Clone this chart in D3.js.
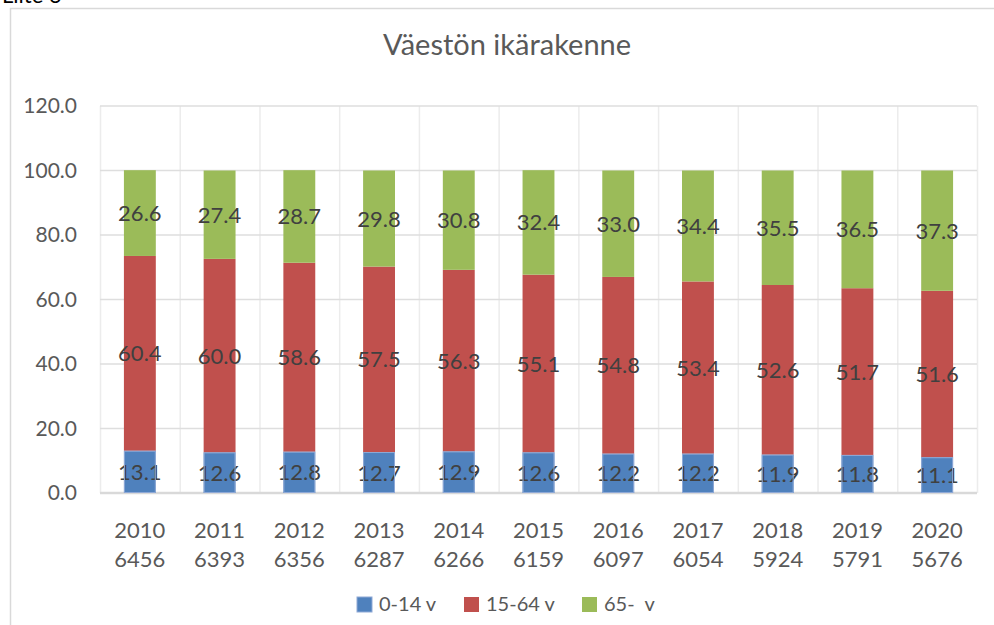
<!DOCTYPE html>
<html>
<head>
<meta charset="utf-8">
<script src="https://cdn.jsdelivr.net/npm/d3@7"></script>
<style>
  body { margin: 0; background: #fff; }
  svg { display: block; font-family: Lato, "Open Sans", sans-serif; }
</style>
</head>
<body>
<svg width="994" height="625"></svg>
<script>
// data
const years = ["2010", "2011", "2012", "2013", "2014", "2015", "2016", "2017", "2018", "2019", "2020"];
const totals = ["6456", "6393", "6356", "6287", "6266", "6159", "6097", "6054", "5924", "5791", "5676"];
const age0to14 = [13.1, 12.6, 12.8, 12.7, 12.9, 12.6, 12.2, 12.2, 11.9, 11.8, 11.1];
const age15to64 = [60.4, 60.0, 58.6, 57.5, 56.3, 55.1, 54.8, 53.4, 52.6, 51.7, 51.6];
const age65 = [26.6, 27.4, 28.7, 29.8, 30.8, 32.4, 33.0, 34.4, 35.5, 36.5, 37.3];
const seriesNames = ["0-14 v", "15-64 v", "65-  v"];
const yTicks = [0, 20, 40, 60, 80, 100, 120];

const colors = ["#4f81bd", "#c0504d", "#9bbb59"];

const svg = d3.select("svg");
const margin = { top: 106, right: 17, bottom: 132, left: 100 };
const width = 994 - margin.left - margin.right;
const height = 625 - margin.top - margin.bottom;

// outer frame + cut-off caption above it
svg.append("text")
  .attr("x", 2).attr("y", 3)
  .attr("font-size", 22).attr("fill", "#000")
  .text("Liite 3");
svg.append("rect")
  .attr("x", 10.5).attr("y", 8.5)
  .attr("width", 1000).attr("height", 640)
  .attr("fill", "none").attr("stroke", "#d9d9d9").attr("stroke-width", 1.5);

svg.append("text")
  .attr("x", 507).attr("y", 55)
  .attr("text-anchor", "middle")
  .attr("font-size", 29).attr("fill", "#595959")
  .text("Väestön ikärakenne");

const g = svg.append("g").attr("transform", `translate(${margin.left},${margin.top})`);

const x = d3.scaleBand().domain(years).range([0, width]).paddingInner(0).paddingOuter(0);
const y = d3.scaleLinear().domain([0, 120]).range([height, 0]);

// vertical grid at category edges
const edges = years.map(d => x(d)).concat([width]);
g.selectAll(".vgrid").data(edges).enter().append("line")
  .attr("x1", d => d + 0.5).attr("x2", d => d + 0.5)
  .attr("y1", 0).attr("y2", height)
  .attr("stroke", "#ececec").attr("stroke-width", 1.5);

// horizontal grid
g.selectAll(".hgrid").data(yTicks).enter().append("line")
  .attr("x1", 0).attr("x2", width)
  .attr("y1", d => y(d)).attr("y2", d => y(d))
  .attr("stroke", d => d === 0 ? "#d9d9d9" : "#dedede")
  .attr("stroke-width", d => d === 0 ? 2.5 : 1.5);

// y axis labels
const yAxis = d3.axisLeft(y).tickValues(yTicks).tickFormat(d3.format(".1f")).tickSize(0).tickPadding(23);
const ya = g.append("g").call(yAxis);
ya.select(".domain").remove();
ya.selectAll("text").attr("font-size", 21).attr("fill", "#595959").attr("font-family", "Lato, sans-serif");

// stacked bars
const table = years.map((yr, i) => ({ year: yr, s0: age0to14[i], s1: age15to64[i], s2: age65[i] }));
const stack = d3.stack().keys(["s0", "s1", "s2"])(table);
const barW = x.bandwidth() * 0.4;

const layers = g.selectAll(".layer").data(stack).enter().append("g")
  .attr("fill", (d, i) => colors[i]);

layers.selectAll("rect").data(d => d).enter().append("rect")
  .attr("x", d => x(d.data.year) + (x.bandwidth() - barW) / 2)
  .attr("width", barW)
  .attr("y", d => y(d[1]))
  .attr("height", d => y(d[0]) - y(d[1]));

// light outline on the blue segments
g.append("g").selectAll("rect").data(stack[0]).enter().append("rect")
  .attr("x", d => x(d.data.year) + (x.bandwidth() - barW) / 2 + 0.5)
  .attr("width", barW - 1)
  .attr("y", d => y(d[1]) + 0.5)
  .attr("height", d => y(d[0]) - y(d[1]) - 1)
  .attr("fill", "none").attr("stroke", "#8fa9d6").attr("stroke-width", 1);

// data labels
layers.selectAll("text").data(d => d).enter().append("text")
  .attr("x", d => x(d.data.year) + x.bandwidth() / 2)
  .attr("y", d => (y(d[0]) + y(d[1])) / 2 + 8)
  .attr("text-anchor", "middle")
  .attr("font-size", 22).attr("fill", "#404040")
  .text(d => (d[1] - d[0]).toFixed(1));

// category labels, two lines
const xl = g.append("g").attr("transform", `translate(0,${height})`);
const cats = xl.selectAll("text").data(years).enter().append("text")
  .attr("x", d => x(d) + x.bandwidth() / 2)
  .attr("text-anchor", "middle")
  .attr("font-size", 22).attr("fill", "#595959");
cats.append("tspan").attr("x", d => x(d) + x.bandwidth() / 2).attr("y", 45).text(d => d);
cats.append("tspan").attr("x", d => x(d) + x.bandwidth() / 2).attr("y", 74).text((d, i) => totals[i]);

// legend
const legendX = [357, 464, 582];
const lg = svg.append("g");
seriesNames.forEach((name, i) => {
  lg.append("rect")
    .attr("x", legendX[i]).attr("y", 597)
    .attr("width", 15).attr("height", 15)
    .attr("fill", colors[i])
    .attr("stroke", i === 0 ? "#8fa9d6" : "none");
  lg.append("text")
    .attr("x", legendX[i] + 22).attr("y", 611)
    .attr("font-size", 20).attr("fill", "#595959")
    .attr("xml:space", "preserve")
    .style("white-space", "pre")
    .text(name);
});
</script>
</body>
</html>
